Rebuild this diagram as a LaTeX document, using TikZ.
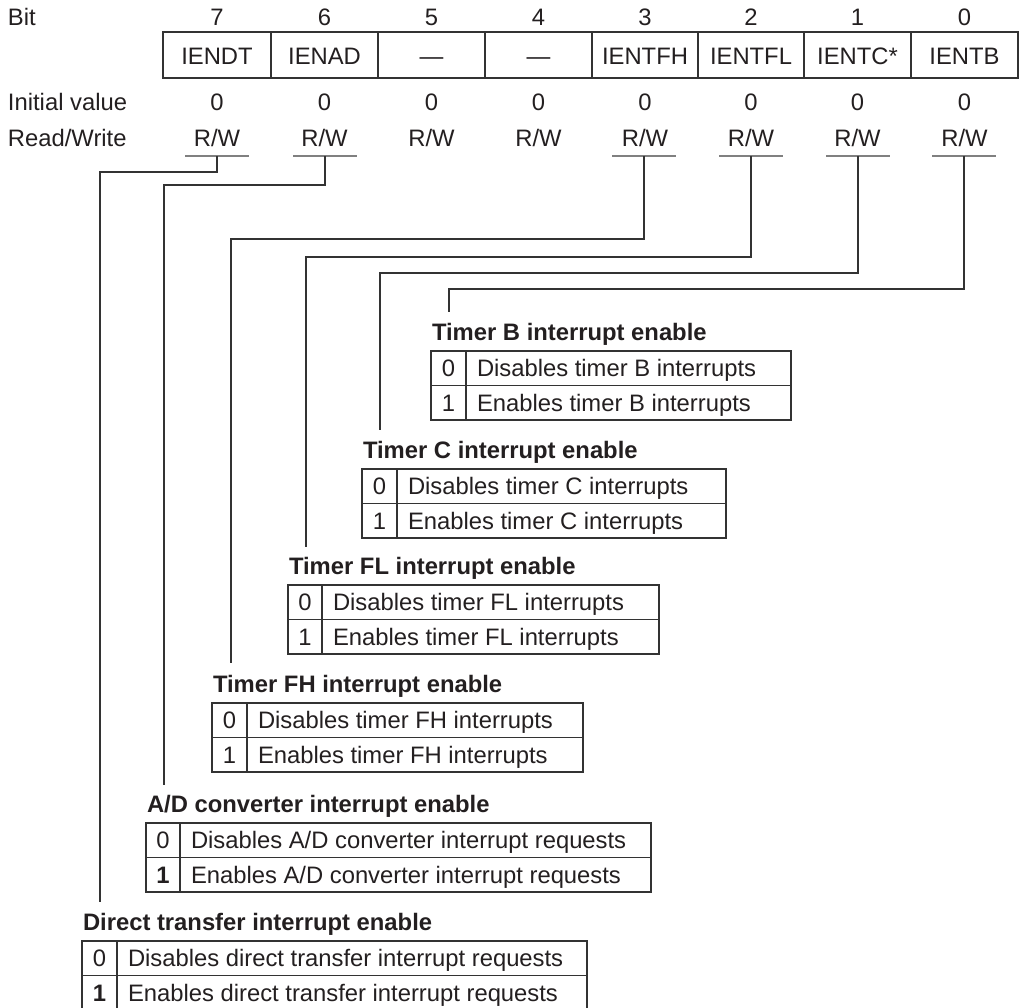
\documentclass[tikz,border=0pt]{standalone}
\usepackage{fontspec}
\setmainfont{Liberation Sans}
\definecolor{txt}{HTML}{231F20}
\definecolor{ln}{HTML}{333333}
\definecolor{ul}{HTML}{808080}
\newcommand\bittable[9]{%
  \node[hdr] (#1h) at (#2+1,#5-11) {#6};
  \draw[rule] (#2,#5) rectangle (#4,#5+69);
  \draw[rule] (#2,#5+34.5) -- (#4,#5+34.5);
  \draw[rule] (#3,#5) -- (#3,#5+69);
  \node[ctr] (#1n0) at ({(#2+#3)/2},#5+25.8) {0};
  \node[ctr] (#1n1) at ({(#2+#3)/2},#5+60.3) {#91};
  \node[lbl] (#1t0) at (#3+11,#5+25.8) {#7};
  \node[lbl] (#1t1) at (#3+11,#5+60.3) {#8};
}
\begin{document}
\begin{tikzpicture}[x=1pt,y=-1pt,
  every node/.style={inner sep=0pt, outer sep=0pt, text=txt, font=\fontsize{23.8}{28}\selectfont},
  rule/.style={draw=ln, line width=1.2pt},
  conn/.style={draw=ln, line width=1.2pt},
  ubar/.style={draw=ul, line width=1.6pt},
  hdr/.style={anchor=base west, font=\fontsize{23.8}{28}\selectfont\bfseries},
  lbl/.style={anchor=base west},
  ctr/.style={anchor=base}]
\useasboundingbox (0,0) rectangle (1020,1007);

% row labels
\node[lbl] (lbit) at (8,25) {Bit};
\node[lbl] (linit) at (8,110) {Initial value};
\node[lbl] (lrw) at (8,146) {Read/Write};

% register box
\draw[rule] (163,32) rectangle (1018,78);
\foreach \x in {271,378,485,592,698,804,911} \draw[rule] (\x,32) -- (\x,78);

\foreach \i/\x/\n in {7/217/IENDT, 6/324.5/IENAD, 5/431.5/—, 4/538.5/—, 3/645/IENTFH, 2/751/IENTFL, 1/857.5/IENTC*, 0/964.5/IENTB} {
  \node[ctr] (bit\i) at (\x,25) {\i};
  \node[ctr] (reg\i) at (\x,64) {\n};
  \node[ctr] (ini\i) at (\x,110) {0};
  \node[ctr] (rw\i) at (\x,146) {R/W};
}

% underlines and connector start points
\foreach \i/\x in {7/217, 6/325, 3/644, 2/751, 1/858, 0/964} {
  \draw[ubar] (\x-32,156) -- (\x+32,156);
  \coordinate (u\i) at (\x,156);
}

% tables
\bittable{tb}{431}{466}{791}{351}{Timer B interrupt enable}{Disables timer B interrupts}{Enables timer B interrupts}{}
\bittable{tc}{362}{397}{726}{469}{Timer C interrupt enable}{Disables timer C interrupts}{Enables timer C interrupts}{}
\bittable{tfl}{288}{322}{659}{585}{Timer FL interrupt enable}{Disables timer FL interrupts}{Enables timer FL interrupts}{}
\bittable{tfh}{212}{247}{583}{703}{Timer FH interrupt enable}{Disables timer FH interrupts}{Enables timer FH interrupts}{}
\bittable{tad}{146}{180}{651}{823}{A/D converter interrupt enable}{Disables A/D converter interrupt requests}{Enables A/D converter interrupt requests}{\bfseries}
\bittable{tdt}{82}{117}{587}{941}{Direct transfer interrupt enable}{Disables direct transfer interrupt requests}{Enables direct transfer interrupt requests}{\bfseries}

% connector ends
\coordinate (e7) at (100,902);
\coordinate (e6) at (164,785);
\coordinate (e3) at (231,663);
\coordinate (e2) at (306,547);
\coordinate (e1) at (380,430);
\coordinate (e0) at (449,312);

\draw[conn] (u7) -- ++(0,16) -| (e7);
\draw[conn] (u6) -- ++(0,29) -| (e6);
\draw[conn] (u3) -- ++(0,83) -| (e3);
\draw[conn] (u2) -- ++(0,101) -| (e2);
\draw[conn] (u1) -- ++(0,117) -| (e1);
\draw[conn] (u0) -- ++(0,133) -| (e0);
\end{tikzpicture}
\end{document}
